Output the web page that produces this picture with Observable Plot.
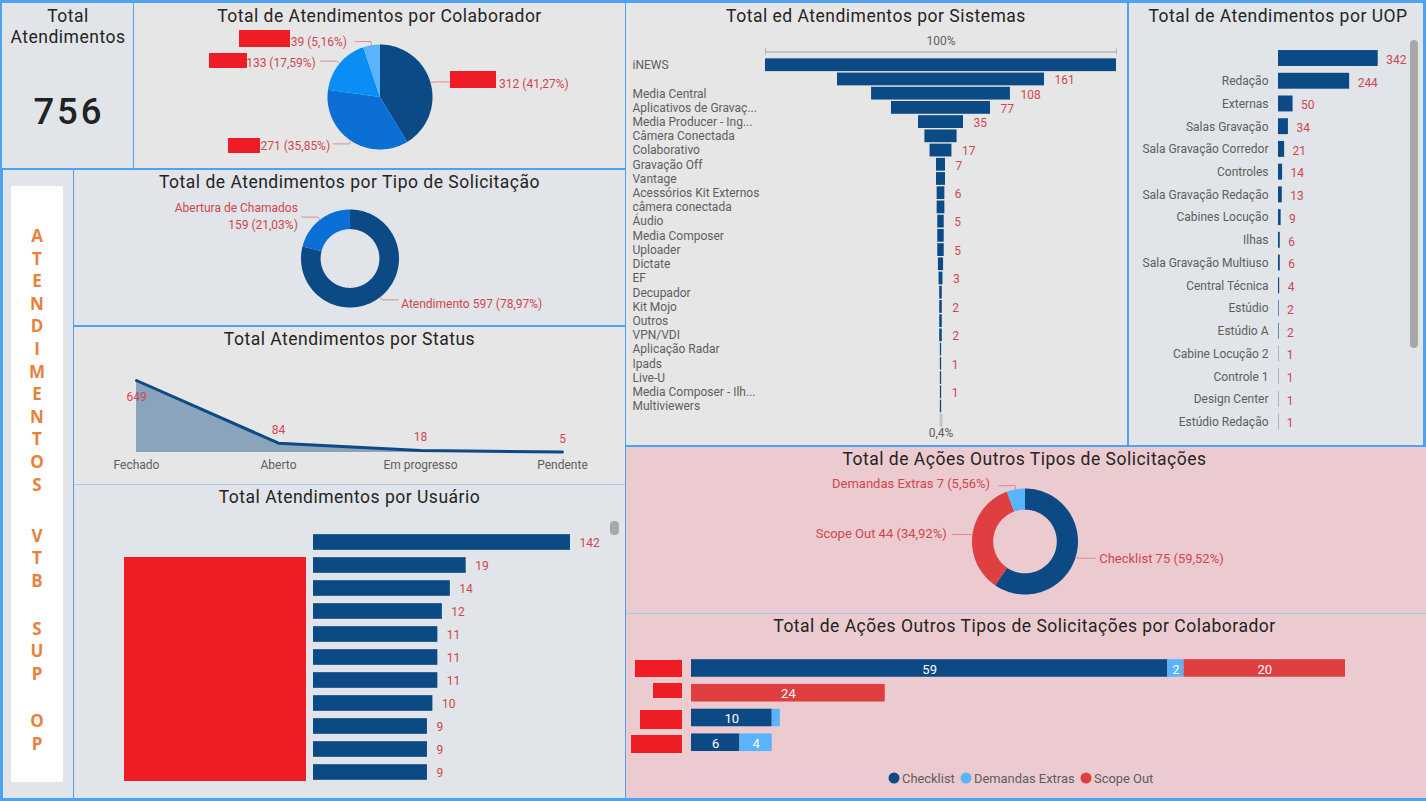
<!DOCTYPE html>
<html lang="pt">
<head>
<meta charset="utf-8">
<script src="https://cdn.jsdelivr.net/npm/d3@7"></script>
<script src="https://cdn.jsdelivr.net/npm/@observablehq/plot@0.6"></script>
<style>
  html,body{margin:0;padding:0;width:1426px;height:801px;overflow:hidden;background:#4da2f2;}
  body{position:relative;font-family:Roboto,sans-serif;}
  .panel{position:absolute;}
  .title{position:absolute;transform:translate(-50%,-50%);white-space:nowrap;font:400 17.5px Roboto,sans-serif;letter-spacing:.5px;color:#252423;}
  .block{position:absolute;background:#ee1c25;}
  .scroll{position:absolute;background:#a8a8a8;border-radius:4px;}
  .rule{position:absolute;background:#a6c8ec;}
  svg{position:absolute;overflow:visible;max-width:none;background:transparent;}
  #strip{position:absolute;left:11px;top:186px;width:52px;height:596px;background:#fff;}
  #strip div{position:absolute;left:0;width:52px;text-align:center;transform:translateY(-50%);font:700 17px "Open Sans",sans-serif;color:#e8813b;}
  .legend{position:absolute;top:778px;transform:translateY(-50%);font:12.9px Roboto,sans-serif;color:#605e5c;white-space:nowrap;}
  .swatch{position:absolute;top:778px;width:11px;height:11px;border-radius:50%;transform:translate(-50%,-50%);}
</style>
</head>
<body>
<script>
// ---------- data ----------
const colabValues = [312, 271, 133, 39];
const colabLabels = ["312 (41,27%)", "271 (35,85%)", "133 (17,59%)", "39 (5,16%)"];
const tipoNames = ["Atendimento", "Abertura de Chamados"];
const tipoValues = [597, 159];
const tipoLabels = ["Atendimento 597 (78,97%)", "Abertura de Chamados\n159 (21,03%)"];
const statusNames = ["Fechado", "Aberto", "Em progresso", "Pendente"];
const statusValues = [649, 84, 18, 5];
const usuarioValues = [142, 19, 14, 12, 11, 11, 11, 10, 9, 9, 9];
const sistemaNames = ["iNEWS", " ", "Media Central", "Aplicativos de Gravaç...", "Media Producer - Ing...", "Câmera Conectada", "Colaborativo", "Gravação Off", "Vantage", "Acessórios Kit Externos", "câmera conectada", "Áudio", "Media Composer", "Uploader", "Dictate", "EF", "Decupador", "Kit Mojo", "Outros", "VPN/VDI", "Aplicação Radar", "Ipads", "Live-U", "Media Composer - Ilh...", "Multiviewers"];
const sistemaValues = [273, 161, 108, 77, 35, 25, 17, 7, 7, 6, 6, 5, 5, 5, 4, 3, 2, 2, 2, 2, 1, 1, 1, 1, 1];
const sistemaShown = [161, 108, 77, 35, null, 17, 7, null, 6, null, 5, null, 5, null, 3, null, 2, null, 2, null, 1, null, 1, null];
const uopNames = [" ", "Redação", "Externas", "Salas Gravação", "Sala Gravação Corredor", "Controles", "Sala Gravação Redação", "Cabines Locução", "Ilhas", "Sala Gravação Multiuso", "Central Técnica", "Estúdio", "Estúdio A", "Cabine Locução 2", "Controle 1", "Design Center", "Estúdio Redação"];
const uopValues = [342, 244, 50, 34, 21, 14, 13, 9, 6, 6, 4, 2, 2, 1, 1, 1, 1];
const acoesNames = ["Checklist", "Scope Out", "Demandas Extras"];
const acoesValues = [75, 44, 7];
const acoesLabels = ["Checklist 75 (59,52%)", "Scope Out 44 (34,92%)", "Demandas Extras 7 (5,56%)"];
const stackSeries = ["Checklist", "Demandas Extras", "Scope Out"];
const stackRows = [0, 1, 2, 3];
const stackChecklist = [59, 0, 10, 6];
const stackDemandas = [2, 0, 1, 4];
const stackScope = [20, 24, 0, 0];
const stripWords = ["ATENDIMENTOS", "VTB", "SUP", "OP"];

// ---------- style ----------
const NAVY = "#0b4a84", LIGHT = "#5ab4fb", RED = "#df3f40", LABEL = "#d0464f", GREY = "#605e5c";
const FONT = "Roboto, sans-serif";
const LABEL_SIZE = 12;

function panel(x, y, w, h, bg) {
  const d = document.createElement("div");
  d.className = "panel";
  d.style.cssText = `left:${x}px;top:${y}px;width:${w}px;height:${h}px;background:${bg}`;
  document.body.appendChild(d);
  return {x, y, w, h, el: d};
}
function add(tag, cls, css, text) {
  const d = document.createElement(tag);
  d.className = cls; d.style.cssText = css;
  if (text != null) d.textContent = text;
  document.body.appendChild(d);
  return d;
}
function title(text, cx, cy) { add("div", "title", `left:${cx}px;top:${cy}px`, text); }
function mount(p, opts) {
  const svg = Plot.plot({
    width: p.w, height: p.h, margin: 0,
    style: {fontFamily: FONT, fontSize: LABEL_SIZE + "px", background: "transparent", color: GREY},
    ...opts
  });
  p.el.appendChild(svg);
  svg.style.left = "0"; svg.style.top = "0";
}
// band scale whose rows are centred half a step in from each end of the range
const bandY = (domain, top, bottom, gap, p) => ({
  type: "band", domain, range: [top - p.y, bottom - p.y],
  paddingInner: gap, paddingOuter: gap / 2, round: false, axis: null
});

// Pie / ring: slices are polygons in a unit data space, drawn by Plot.line through the x and y scales.
function pieChart(p, names, values, labels, colors, {cx, cy, r, hole = 0, reach, gaps, dys, size = LABEL_SIZE}) {
  const arcs = d3.pie().sort(null)(values);
  const verts = arcs.flatMap((a, i) => {
    const n = Math.max(2, Math.ceil((a.endAngle - a.startAngle) * 40));
    const angles = d3.range(n + 1).map(k => a.startAngle + (a.endAngle - a.startAngle) * k / n);
    const outer = angles.map(t => ({name: names[i], x: Math.sin(t), y: Math.cos(t)}));
    const inner = hole
      ? angles.slice().reverse().map(t => ({name: names[i], x: hole * Math.sin(t), y: hole * Math.cos(t)}))
      : [{name: names[i], x: 0, y: 0}];
    return [...outer, ...inner];
  });
  const unit = 1 / r;
  const leaders = [], notes = [];
  arcs.forEach((a, i) => {
    const t = (a.startAngle + a.endAngle) / 2;
    const sx = Math.sin(t), sy = Math.cos(t), side = sx >= 0 ? 1 : -1;
    const e = {x: 1.07 * sx, y: 1.07 * sy};
    const end = {x: e.x + side * reach * unit, y: e.y};
    leaders.push({i, x: sx, y: sy}, {i, ...e}, {i, ...end});
    notes.push({
      x: end.x + side * gaps[i] * unit, y: end.y - dys[i] * unit, text: labels[i],
      anchor: side > 0 ? "start" : "end"
    });
  });
  mount(p, {
    x: {domain: [-1, 1], range: [cx - r - p.x, cx + r - p.x], axis: null},
    y: {domain: [-1, 1], range: [cy + r - p.y, cy - r - p.y], axis: null},
    color: {domain: names, range: colors},
    marks: [
      Plot.line(verts, {x: "x", y: "y", z: "name", fill: "name", stroke: "none", curve: "linear"}),
      Plot.line(leaders, {x: "x", y: "y", z: "i", stroke: "#d98c92", strokeWidth: 1, curve: "linear"}),
      Plot.text(notes.filter(n => n.anchor === "start"), {x: "x", y: "y", text: "text", textAnchor: "start", fill: LABEL, fontSize: size, lineHeight: 1.4}),
      Plot.text(notes.filter(n => n.anchor === "end"), {x: "x", y: "y", text: "text", textAnchor: "end", fill: LABEL, fontSize: size, lineHeight: 1.4})
    ]
  });
}

// ---------- panels ----------
const GREY_A = "#e6e6e6", GREY_B = "#e1e4e8", PINK = "#ebcbcf";
const pKpi = panel(2, 3, 131, 165, GREY_B);
const pColab = panel(134, 3, 491, 165, GREY_A);
const pStrip = panel(3, 170, 70, 628, GREY_B);
const pTipo = panel(74, 170, 551, 155, GREY_B);
const pStatus = panel(74, 327, 551, 157, GREY_A);
const pUser = panel(74, 485, 551, 313, GREY_B);
const pSis = panel(626, 3, 501, 442, GREY_A);
const pUop = panel(1129, 3, 294, 442, GREY_B);
const pAcoes = panel(626, 447, 800, 166, PINK);
const pStack = panel(626, 614, 800, 184, PINK);
add("div", "rule", "left:74px;top:484px;width:551px;height:1px");
add("div", "rule", "left:626px;top:613px;width:800px;height:1px");

// KPI
add("div", "title", "left:68px;top:16px", "Total");
add("div", "title", "left:68px;top:37px", "Atendimentos");
add("div", "title", "left:69px;top:111px;font-size:36.5px;font-weight:500;letter-spacing:3px;color:#222", "756");

// Vertical text
const strip = add("div", "", "");
strip.id = "strip";
const wordGaps = [0, 51, 48, 47];
let stripY = 49;
stripWords.forEach((w, k) => {
  stripY += wordGaps[k];
  w.split("").forEach((c, i) => {
    const d = document.createElement("div");
    d.textContent = c;
    d.style.top = stripY + "px";
    strip.appendChild(d);
    if (i < w.length - 1) stripY += 22.6;
  });
});

title("Total de Atendimentos por Colaborador", 379.5, 15.5);
title("Total de Atendimentos por Tipo de Solicitação", 349.5, 182);
title("Total Atendimentos por Status", 349.5, 339);
title("Total Atendimentos por Usuário", 349.5, 497);
title("Total ed Atendimentos por Sistemas", 876, 15.5);
title("Total de Atendimentos por UOP", 1278, 15.5);
title("Total de Ações Outros Tipos de Solicitações", 1024.5, 459);
title("Total de Ações Outros Tipos de Solicitações por Colaborador", 1024.5, 626);

// Pies
pieChart(pColab, ["a", "b", "c", "d"], colabValues, colabLabels, [NAVY, "#0b6fd6", "#0a8df5", LIGHT],
  {cx: 379.5, cy: 96.5, r: 52.5, reach: 16, gaps: [49, 3, 5, 8], dys: [1, 1, 0, -1]});
pieChart(pTipo, tipoNames, tipoValues, tipoLabels, [NAVY, "#0b6fd6"],
  {cx: 349.5, cy: 258, r: 49, hole: 0.6, reach: 16, gaps: [3, 4], dys: [3, -2]});
pieChart(pAcoes, acoesNames, acoesValues, acoesLabels, [NAVY, RED, LIGHT],
  {cx: 1024.5, cy: 541, r: 53, hole: 0.6, reach: 16, gaps: [4, 6, 9], dys: [-1, -2, -3], size: 13});

// Status
mount(pStatus, {
  marginBottom: pStatus.h - (452 - pStatus.y),
  x: {type: "point", domain: statusNames, range: [136 - pStatus.x, 562 - pStatus.x], padding: 0, axis: null},
  y: {domain: [0, 649], range: [452 - pStatus.y, 380 - pStatus.y], axis: null},
  marks: [
    Plot.areaY(statusValues, {x: (d, i) => statusNames[i], y: d => d, fill: NAVY, fillOpacity: 0.42, curve: "linear"}),
    Plot.lineY(statusValues, {x: (d, i) => statusNames[i], y: d => d, stroke: NAVY, strokeWidth: 3, curve: "linear"}),
    Plot.text(statusValues.slice(0, 1), {x: () => statusNames[0], y: d => d, text: d => d, dy: 17, fill: LABEL, fontSize: LABEL_SIZE}),
    Plot.text(statusValues.slice(1), {x: (d, i) => statusNames[i + 1], y: d => d, text: d => d, dy: -13, fill: LABEL, fontSize: LABEL_SIZE}),
    Plot.axisX({tickSize: 0, tickPadding: 8, label: null, fill: GREY, fontSize: LABEL_SIZE})
  ]
});

// Usuario (the original axis is logarithmic)
mount(pUser, {
  x: {type: "log", domain: [1, 142], range: [313 - pUser.x, 570 - pUser.x], axis: null},
  y: bandY(d3.range(usuarioValues.length), 530.5, 783.5, 0.32, pUser),
  marks: [
    Plot.barX(usuarioValues, {x1: () => 1, x2: d => d, y: (d, i) => i, fill: NAVY}),
    Plot.text(usuarioValues, {x: d => d, y: (d, i) => i, text: d => d, textAnchor: "start", dx: 9, dy: 1, fill: LABEL, fontSize: LABEL_SIZE})
  ]
});

// Funnel
const funnelTop = "top-scale", funnelBottom = "bottom-scale";
const half = d3.max(sistemaValues) / 2;
mount(pSis, {
  x: {domain: [-half, half], range: [765 - pSis.x, 1116 - pSis.x], axis: null},
  y: bandY([funnelTop, ...sistemaNames, funnelBottom], 43.4, 427.3, 0.1, pSis),
  marks: [
    Plot.barX(sistemaValues, {x1: d => -d / 2, x2: d => d / 2, y: (d, i) => sistemaNames[i], fill: NAVY}),
    Plot.text(sistemaNames, {y: d => d, text: d => d, frameAnchor: "left", textAnchor: "start", dx: 6, fill: GREY, fontSize: LABEL_SIZE}),
    Plot.text(sistemaValues, {
      filter: (d, i) => i > 0 && sistemaShown[i - 1] != null,
      x: d => d / 2, y: (d, i) => sistemaNames[i], text: d => d, textAnchor: "start", dx: 10, dy: 1, fill: LABEL, fontSize: LABEL_SIZE
    }),
    Plot.ruleY([funnelTop], {x1: -half, x2: half, stroke: "#b8b8b8", strokeWidth: 1.5, dy: 1}),
    Plot.tickX([-half, half], {x: d => d, y: () => funnelTop, stroke: "#b8b8b8", insetTop: 3, insetBottom: 3, dy: 1}),
    Plot.text(["100%"], {x: () => 0, y: () => funnelTop, text: d => d, dy: -10, fill: GREY, fontSize: LABEL_SIZE}),
    Plot.tickX([0], {x: d => d, y: () => funnelBottom, stroke: "#c4c4c4", strokeWidth: 3}),
    Plot.text(["0,4%"], {x: () => 0, y: () => funnelBottom, text: d => d, dy: 12, fill: GREY, fontSize: LABEL_SIZE})
  ]
});

// UOP
mount(pUop, {
  marginLeft: 1278 - pUop.x,
  x: {domain: [0, 342], range: [1278 - pUop.x, 1377.7 - pUop.x], axis: null},
  y: bandY(uopNames, 46.65, 433, 0.3, pUop),
  marks: [
    Plot.barX(uopValues, {x1: () => 0, x2: d => d, y: (d, i) => uopNames[i], fill: NAVY}),
    Plot.text(uopValues, {x: d => d, y: (d, i) => uopNames[i], text: d => d, textAnchor: "start", dx: 8, dy: 1.5, fill: LABEL, fontSize: LABEL_SIZE}),
    Plot.axisY({anchor: "left", tickSize: 0, tickPadding: 10, label: null, fill: GREY, fontSize: LABEL_SIZE})
  ]
});

// Stacked bars
const stackTable = stackRows.flatMap(r => [
  {row: r, series: stackSeries[0], value: stackChecklist[r]},
  {row: r, series: stackSeries[1], value: stackDemandas[r]},
  {row: r, series: stackSeries[2], value: stackScope[r]}
]).filter(d => d.value > 0);
mount(pStack, {
  x: {domain: [0, 81], range: [691 - pStack.x, 1345 - pStack.x], axis: null},
  y: bandY(stackRows, 655.6, 754.6, 0.29, pStack),
  color: {domain: stackSeries, range: [NAVY, LIGHT, RED]},
  marks: [
    Plot.barX(stackTable, {x: "value", y: "row", fill: "series", order: stackSeries}),
    Plot.text(stackTable, Plot.stackX({
      x: "value", y: "row", z: "series", order: stackSeries, text: d => d.value > 1 ? d.value : "",
      fill: "white", fontSize: 13, dy: 1
    }))
  ]
});

// Legend
[[894, 902, 0], [966, 974, 1], [1086, 1094, 2]].forEach(([dot, txt, i]) => {
  add("div", "swatch", `left:${dot}px;background:${[NAVY, LIGHT, RED][i]}`);
  add("div", "legend", `left:${txt}px`, stackSeries[i]);
});

// Redaction blocks and scrollbars that sit on top of the dashboard
const blocks = [[239,30,51,17],[209,53,38,15],[228,138,32,15],[450,71,46,17],[124,557,182,224],[635,660,47,17],[653,683,29,15],[640,710,42,19],[631,735,51,18]];
blocks.forEach(([x,y,w,h]) => add("div", "block", `left:${x}px;top:${y}px;width:${w}px;height:${h}px`));
const bars = [[1410,40,8,308],[610,521,9,14]];
bars.forEach(([x,y,w,h]) => add("div", "scroll", `left:${x}px;top:${y}px;width:${w}px;height:${h}px`));
</script>
</body>
</html>
